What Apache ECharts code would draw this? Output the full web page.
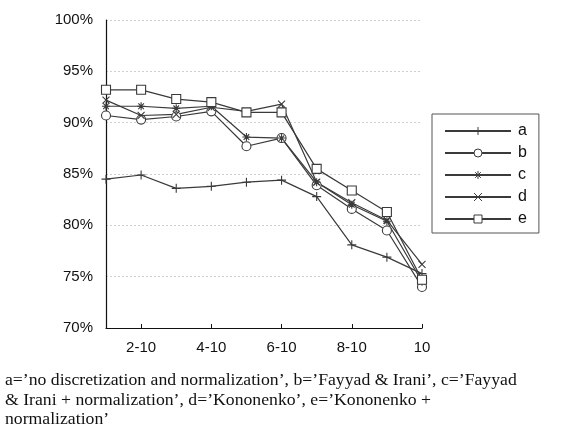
<!DOCTYPE html>
<html>
<head>
<meta charset="utf-8">
<script src="https://cdn.jsdelivr.net/npm/echarts@6/dist/echarts.min.js"></script>
<style>
  html, body { margin: 0; padding: 0; background: #fff; }
  #chart { width: 562px; height: 432px; }
</style>
</head>
<body>
<div id="chart"></div>
<script>
// categories (x axis)
var categories = ['1-10', '2-10', '3-10', '4-10', '5-10', '6-10', '7-10', '8-10', '9-10', '10']
// accuracy in %
var seriesA = [84.5, 84.9, 83.6, 83.8, 84.2, 84.4, 82.8, 78.1, 76.9, 75.3]
var seriesB = [90.7, 90.3, 90.6, 91.1, 87.7, 88.5, 83.9, 81.6, 79.5, 74.0]
var seriesC = [91.6, 91.6, 91.4, 91.6, 88.6, 88.5, 84.2, 82.0, 80.4, 74.5]
var seriesD = [92.2, 90.7, 90.8, 91.5, 91.1, 91.8, 84.2, 82.2, 80.5, 76.2]
var seriesE = [93.2, 93.2, 92.3, 92.0, 91.0, 91.0, 85.5, 83.4, 81.3, 74.7]
var names = ['a', 'b', 'c', 'd', 'e']
var caption = 'a=’no discretization and normalization’, b=’Fayyad & Irani’, c=’Fayyad\n' +
  '& Irani + normalization’, d=’Kononenko’, e=’Kononenko +\n' +
  'normalization’'

var lineColor = '#3a3a3a'
// marker shapes
var symPlus = 'path://M5,0L5,10M0,5L10,5'
var symCross = 'path://M0,0L10,10M10,0L0,10'
var symStar = 'path://M5,0L5,10M0,5L10,5M1.5,1.5L8.5,8.5M8.5,1.5L1.5,8.5'

function mkSeries(name, data, symbol, size) {
  return {
    name: name,
    type: 'line',
    data: data,
    symbol: symbol,
    symbolSize: size,
    showAllSymbol: true,
    lineStyle: { color: lineColor, width: 1.2 },
    itemStyle: { color: '#fff', borderColor: lineColor, borderWidth: 1.1 },
    emphasis: { disabled: true },
    z: 3
  }
}

var myChart = echarts.init(document.getElementById('chart'), null, { renderer: 'canvas' })
var option = {
  animation: false,
  backgroundColor: '#fff',
  grid: { left: 106, right: 140, top: 20, bottom: 104, containLabel: false },
  legend: {
    data: names,
    orient: 'vertical',
    left: 432,
    top: 114,
    padding: [9, 12, 6, 12],
    itemWidth: 66,
    itemHeight: 10,
    itemGap: 6,
    itemStyle: { borderWidth: 1 },
    borderColor: '#555',
    borderWidth: 1,
    textStyle: { color: '#111', fontSize: 16, lineHeight: 16, fontFamily: 'Liberation Sans', padding: [0, 0, 0, 2] }
  },
  xAxis: {
    type: 'category',
    data: categories,
    boundaryGap: false,
    axisLine: { lineStyle: { color: '#111', width: 1.2 } },
    axisTick: {
      inside: true,
      length: 4,
      lineStyle: { color: '#111' },
      interval: function (i) { return i % 2 === 1 }
    },
    axisLabel: {
      interval: function (i) { return i % 2 === 1 },
      color: '#111',
      fontSize: 15,
      fontFamily: 'Liberation Sans',
      margin: 12
    },
    splitLine: { show: false }
  },
  yAxis: {
    type: 'value',
    min: 70,
    max: 100,
    interval: 5,
    axisLine: { show: true, lineStyle: { color: '#111', width: 1.2 } },
    axisTick: { show: false },
    axisLabel: {
      formatter: '{value}%',
      color: '#111',
      fontSize: 15,
      fontFamily: 'Liberation Sans',
      margin: 13
    },
    splitLine: { show: true, lineStyle: { color: '#cfcfcf', type: [2, 2], width: 1 } }
  },
  series: [
    mkSeries('a', seriesA, symPlus, 9),
    mkSeries('b', seriesB, 'circle', 9),
    mkSeries('c', seriesC, symStar, 8),
    mkSeries('d', seriesD, symCross, 7),
    mkSeries('e', seriesE, 'rect', 9)
  ],
  graphic: [
    {
      type: 'text',
      left: 5,
      top: 371,
      style: {
        text: caption,
        fill: '#111',
        font: '17.7px "Liberation Serif"',
        lineHeight: 19.5
      }
    }
  ]
}
myChart.setOption(option)
window.addEventListener('resize', function () {
  myChart.resize()
})
</script>
</body>
</html>
